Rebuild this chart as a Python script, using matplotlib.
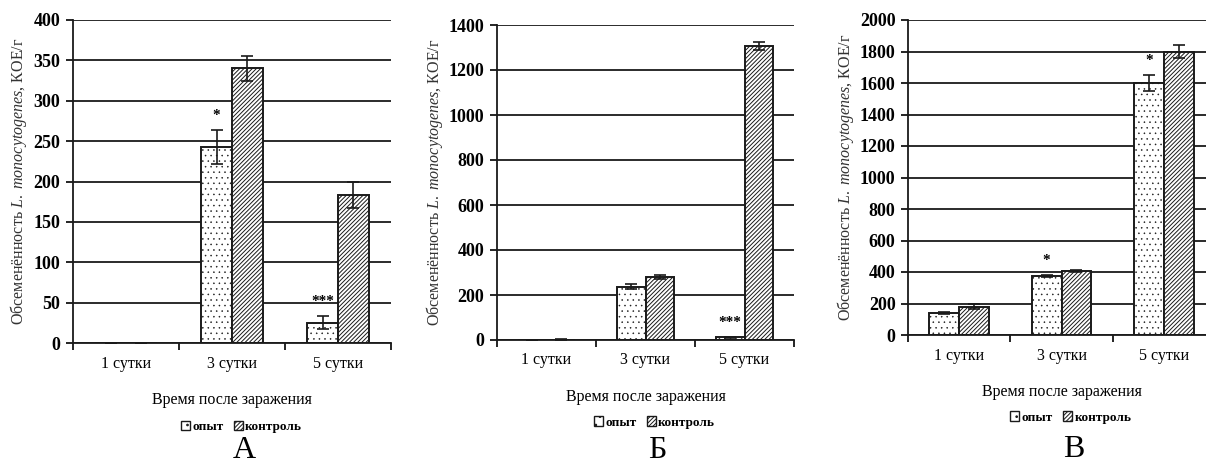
import matplotlib
matplotlib.use('Agg')
from matplotlib import pyplot as plt
from matplotlib.patches import Patch
import numpy as np

matplotlib.rcParams['font.family'] = 'Liberation Serif'
matplotlib.rcParams['mathtext.fontset'] = 'custom'
matplotlib.rcParams['mathtext.rm'] = 'Liberation Serif'
matplotlib.rcParams['mathtext.it'] = 'Liberation Serif:italic'
matplotlib.rcParams['hatch.linewidth'] = 0.7

days = ['1 сутки', '3 сутки', '5 сутки']
series = ['опыт', 'контроль']

# panel А
a_exp = [0, 243, 25]
a_exp_err = [0, 21, 8]
a_ctl = [0, 340, 183]
a_ctl_err = [0, 15, 16]
a_stars = ['', '*', '***']

# panel Б
b_exp = [0, 237, 12]
b_exp_err = [0, 10, 3]
b_ctl = [2, 280, 1308]
b_ctl_err = [1, 8, 18]
b_stars = ['', '', '***']

# panel В
c_exp = [140, 375, 1600]
c_exp_err = [8, 5, 50]
c_ctl = [180, 405, 1800]
c_ctl_err = [15, 5, 40]
c_stars = ['', '*', '*']

ylabel = r'Обсеменённость $\it{L.\ monocytogenes}$, КОЕ/г'
bar_w = 0.29
dots = '...'
lines = '////////'


def draw_panel(fig, rect, exp, exp_err, ctl, ctl_err, stars, ymax, step, letter, letter_y):
	ax = fig.add_axes(rect)
	x = np.arange(len(days))
	ax.set_axisbelow(True)
	ax.grid(axis='y', color='#1a1a1a', linewidth=1.3)
	b1 = ax.bar(x - bar_w / 2, exp, bar_w, color='white', edgecolor='#1a1a1a',
		hatch=dots, linewidth=1.4, label=series[0])
	for p in b1:
		p.set_hatch_linewidth(0.35)
	ax.bar(x + bar_w / 2, ctl, bar_w, color='white', edgecolor='#1a1a1a',
		hatch=lines, linewidth=1.4, label=series[1])
	ax.errorbar(x - bar_w / 2, exp, yerr=exp_err, fmt='none', ecolor='#1a1a1a',
		elinewidth=1.2, capsize=4, capthick=1.2)
	ax.errorbar(x + bar_w / 2, ctl, yerr=ctl_err, fmt='none', ecolor='#1a1a1a',
		elinewidth=1.2, capsize=4, capthick=1.2)
	for i, s in enumerate(stars):
		if s:
			ax.text(x[i] - bar_w / 2, exp[i] + exp_err[i] + 0.045 * ymax, s,
				ha='center', va='center', fontsize=11, fontweight='bold')

	ax.set_xlim(-0.5, 2.5)
	ax.set_ylim(0, ymax)
	ax.set_yticks(np.arange(0, ymax + 1, step))
	ax.set_xticks(x)
	ax.set_xticklabels(days, fontsize=11.5)
	ax.set_xticks([-0.5, 0.5, 1.5, 2.5], minor=True)
	ax.tick_params(axis='x', which='major', length=0, pad=9)
	ax.tick_params(axis='x', which='minor', length=5, width=1.2, direction='out')
	ax.tick_params(axis='y', length=5, width=1.2, labelsize=13, pad=4)
	for lab in ax.get_yticklabels():
		lab.set_fontweight('bold')
	for sp in ['top', 'right']:
		ax.spines[sp].set_visible(False)
	for sp in ['left', 'bottom']:
		ax.spines[sp].set_linewidth(1.3)
		ax.spines[sp].set_color('#1a1a1a')
	ax.set_ylabel(ylabel, fontsize=11.5, labelpad=3, color='#333')
	ax.set_xlabel('Время после заражения', fontsize=11.5, labelpad=15)

	handles = [Patch(facecolor='white', edgecolor='#1a1a1a', hatch='..', label=series[0]),
		Patch(facecolor='white', edgecolor='#1a1a1a', hatch=lines, label=series[1])]
	ax.legend(handles=handles, loc='upper center', bbox_to_anchor=(0.53, -0.205), ncol=2,
		frameon=False, handlelength=0.7, handleheight=0.7,
		handletextpad=0.15, columnspacing=0.8, prop={'weight': 'bold', 'size': 9.5})
	fig.text(rect[0] + rect[2] / 2 + 0.01, letter_y, letter, ha='center', va='baseline', fontsize=23)
	return ax


def main():
	fig = plt.figure(figsize=(12.06, 4.66), dpi=100)
	W, H = 1206, 466

	def r(l, rgt, top, bot):
		return [l / W, 1 - bot / H, (rgt - l) / W, (bot - top) / H]

	draw_panel(fig, r(73, 391, 20, 343), a_exp, a_exp_err, a_ctl, a_ctl_err, a_stars,
		400, 50, 'А', 1 - 458 / H)
	draw_panel(fig, r(497, 794, 25, 340), b_exp, b_exp_err, b_ctl, b_ctl_err, b_stars,
		1400, 200, 'Б', 1 - 458 / H)
	draw_panel(fig, r(908, 1215, 20, 335), c_exp, c_exp_err, c_ctl, c_ctl_err, c_stars,
		2000, 200, 'В', 1 - 457 / H)

	fig.savefig('out.png', dpi=100)


if __name__ == '__main__':
	main()
